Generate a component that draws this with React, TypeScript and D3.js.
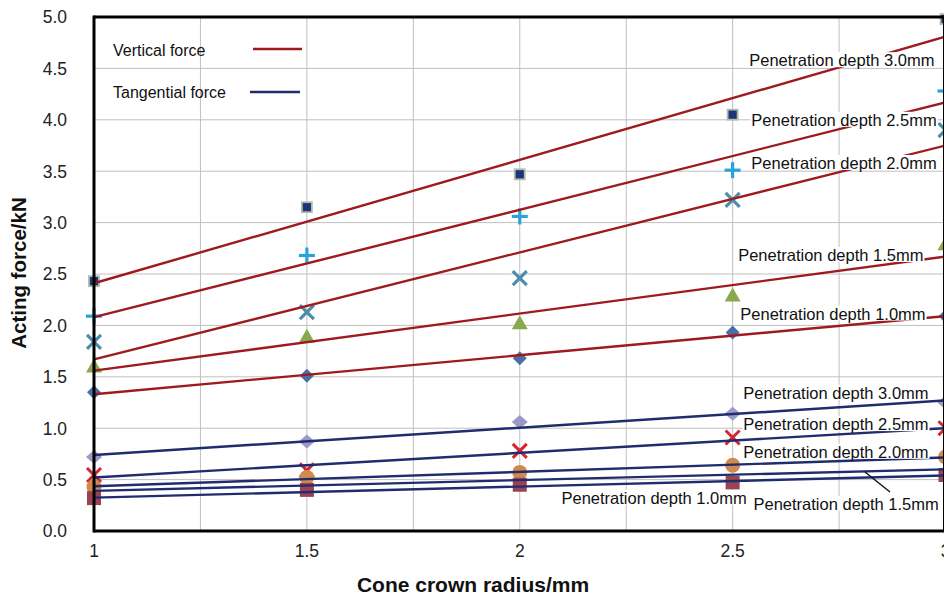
import React from "react";
import * as d3 from "d3";

// ---------- data ----------
const radii = [1, 1.5, 2, 2.5, 3];

const vertical30 = [2.43, 3.15, 3.47, 4.05, 4.98];
const vertical25 = [2.09, 2.68, 3.06, 3.51, 4.28];
const vertical20 = [1.84, 2.13, 2.46, 3.22, 3.9];
const vertical15 = [1.6, 1.89, 2.02, 2.29, 2.79];
const vertical10 = [1.35, 1.51, 1.68, 1.93, 2.09];

const tangential30 = [0.72, 0.87, 1.06, 1.14, 1.25];
const tangential25 = [0.545, 0.59, 0.78, 0.91, 1.0];
const tangential20 = [0.43, 0.52, 0.57, 0.64, 0.72];
const tangential10 = [0.32, 0.4, 0.45, 0.47, 0.545];

// trend line end values (at radius 1 and radius 3)
const trendV30 = [2.41, 4.81];
const trendV25 = [2.08, 4.17];
const trendV20 = [1.67, 3.75];
const trendV15 = [1.56, 2.67];
const trendV10 = [1.33, 2.09];
const trendT30 = [0.74, 1.27];
const trendT25 = [0.52, 1.0];
const trendT20 = [0.435, 0.715];
const trendT15 = [0.39, 0.6];
const trendT10 = [0.325, 0.54];

const yTicks = [0, 0.5, 1, 1.5, 2, 2.5, 3, 3.5, 4, 4.5, 5];
const xTickLabels = [1, 1.5, 2, 2.5, 3];
const xGrid = [1, 1.25, 1.5, 1.75, 2, 2.25, 2.5, 2.75, 3];

const labelText = {
  d30: "Penetration depth 3.0mm",
  d25: "Penetration depth 2.5mm",
  d20: "Penetration depth 2.0mm",
  d15: "Penetration depth 1.5mm",
  d10: "Penetration depth 1.0mm",
};

// ---------- layout ----------
const W = 944;
const H = 596;
const plotLeft = 94;
const plotRight = 945.5;
const plotTop = 17;
const plotBottom = 531;

const x = d3.scaleLinear().domain([1, 3]).range([plotLeft, plotRight]);
const y = d3.scaleLinear().domain([0, 5]).range([plotBottom, plotTop]);

const RED = "#9e1a1f";
const BLUE = "#1f2d6e";
const FONT = "'Liberation Sans', Arial, sans-serif";

type Marker = "sqNavy" | "plus" | "xTeal" | "tri" | "diaBlue" | "diaLav" | "xRed" | "circle" | "sqRed" | "none";

interface Series {
  values: number[] | null;
  trend: number[];
  color: string;
  marker: Marker;
  label: string;
  lx: number; // label left in data units
  ly: number; // label center in data units
}

const series: Series[] = [
  { values: vertical30, trend: trendV30, color: RED, marker: "sqNavy", label: labelText.d30, lx: 2.539, ly: 4.58 },
  { values: vertical25, trend: trendV25, color: RED, marker: "plus", label: labelText.d25, lx: 2.544, ly: 4.0 },
  { values: vertical20, trend: trendV20, color: RED, marker: "xTeal", label: labelText.d20, lx: 2.544, ly: 3.58 },
  { values: vertical15, trend: trendV15, color: RED, marker: "tri", label: labelText.d15, lx: 2.513, ly: 2.685 },
  { values: vertical10, trend: trendV10, color: RED, marker: "diaBlue", label: labelText.d10, lx: 2.518, ly: 2.115 },
  { values: tangential30, trend: trendT30, color: BLUE, marker: "diaLav", label: labelText.d30, lx: 2.525, ly: 1.345 },
  { values: tangential25, trend: trendT25, color: BLUE, marker: "xRed", label: labelText.d25, lx: 2.525, ly: 1.04 },
  { values: tangential20, trend: trendT20, color: BLUE, marker: "circle", label: labelText.d20, lx: 2.525, ly: 0.77 },
  { values: null, trend: trendT15, color: BLUE, marker: "none", label: labelText.d15, lx: 2.549, ly: 0.265 },
  { values: tangential10, trend: trendT10, color: BLUE, marker: "sqRed", label: labelText.d10, lx: 2.098, ly: 0.325 },
];

function MarkerShape({ type, cx, cy }: { type: Marker; cx: number; cy: number }) {
  switch (type) {
    case "sqNavy":
      return <rect x={cx - 5} y={cy - 5} width={10} height={10} fill="#1f3477" stroke="#aebcab" strokeWidth={1.8} />;
    case "plus":
      return (
        <g stroke="#2aa3d6" strokeWidth={3.2}>
          <line x1={cx - 8} x2={cx + 8} y1={cy} y2={cy} />
          <line x1={cx} x2={cx} y1={cy - 8} y2={cy + 8} />
        </g>
      );
    case "xTeal":
      return (
        <g stroke="#4a8eab" strokeWidth={3.2}>
          <line x1={cx - 7} x2={cx + 7} y1={cy - 7} y2={cy + 7} />
          <line x1={cx - 7} x2={cx + 7} y1={cy + 7} y2={cy - 7} />
        </g>
      );
    case "tri":
      return <path d={`M${cx},${cy - 8} L${cx + 8},${cy + 6} L${cx - 8},${cy + 6}Z`} fill="#8aa84e" />;
    case "diaBlue":
      return <path d={`M${cx},${cy - 7} L${cx + 7},${cy} L${cx},${cy + 7} L${cx - 7},${cy}Z`} fill="#4a6ea6" />;
    case "diaLav":
      return <path d={`M${cx},${cy - 7} L${cx + 8},${cy} L${cx},${cy + 7} L${cx - 8},${cy}Z`} fill="#9b99c6" />;
    case "xRed":
      return (
        <g stroke="#d6252e" strokeWidth={3}>
          <line x1={cx - 7} x2={cx + 7} y1={cy - 7} y2={cy + 7} />
          <line x1={cx - 7} x2={cx + 7} y1={cy + 7} y2={cy - 7} />
        </g>
      );
    case "circle":
      return <circle cx={cx} cy={cy} r={7.5} fill="#cf8a4c" />;
    case "sqRed":
      return <rect x={cx - 7} y={cy - 7} width={14} height={14} fill="#9b4254" />;
    default:
      return null;
  }
}

const LABEL_SIZE = 16.5;

function measureWidth(text: string, size: number) {
  // approximate Arial advance widths
  const w: Record<string, number> = {
    P: 667, e: 556, n: 556, t: 278, r: 333, a: 556, i: 222, o: 556, " ": 278, d: 556, p: 556, h: 556,
    "0": 556, "1": 556, "2": 556, "3": 556, "5": 556, ".": 278, m: 833,
  };
  let s = 0;
  for (const c of text) s += w[c] ?? 556;
  return (s / 1000) * size;
}

export default function App() {
  return (
    <svg
      width={W}
      height={H}
      viewBox={`0 0 ${W} ${H}`}
      style={{ position: "absolute", left: 0, top: 0, background: "#fff" }}
      fontFamily={FONT}
    >
      <rect x={0} y={0} width={W} height={H} fill="#fff" />
      {/* grid */}
      <g stroke="#c0c0c0" strokeWidth={1}>
        {xGrid.map((g) => (
          <line key={"gx" + g} x1={x(g)} x2={x(g)} y1={plotTop} y2={plotBottom} />
        ))}
        {yTicks.map((t) => (
          <line key={"gy" + t} x1={plotLeft} x2={plotRight} y1={y(t)} y2={y(t)} />
        ))}
      </g>

      {/* markers */}
      {series.map((s, i) =>
        s.values ? (
          <g key={"m" + i}>
            {s.values.map((v, j) => (
              <MarkerShape key={j} type={s.marker} cx={x(radii[j])} cy={y(v)} />
            ))}
          </g>
        ) : null
      )}

      {/* trend lines */}
      {series.map((s, i) => (
        <line
          key={"t" + i}
          x1={x(radii[0])}
          x2={x(radii[radii.length - 1])}
          y1={y(s.trend[0])}
          y2={y(s.trend[1])}
          stroke={s.color}
          strokeWidth={2.4}
        />
      ))}

      {/* leader line for tangential 1.5 */}
      <line x1={865} y1={472} x2={890} y2={492} stroke="#111" strokeWidth={1.5} />

      {/* labels with white background */}
      {series.map((s, i) => {
        const lx = x(s.lx);
        const ly = y(s.ly);
        const w = measureWidth(s.label, LABEL_SIZE);
        return (
          <g key={"l" + i}>
            <rect x={lx - 1} y={ly - 8} width={w + 2} height={15} fill="#fff" />
            <text x={lx} y={ly} dy="0.36em" fontSize={LABEL_SIZE} fill="#111">
              {s.label}
            </text>
          </g>
        );
      })}

      {/* frame */}
      <line x1={plotLeft} x2={plotLeft} y1={plotTop - 1.5} y2={plotBottom + 1.5} stroke="#000" strokeWidth={3} />
      <line x1={plotLeft} x2={W} y1={plotBottom} y2={plotBottom} stroke="#000" strokeWidth={3} />
      <line x1={plotLeft} x2={W} y1={plotTop} y2={plotTop} stroke="#000" strokeWidth={3} />
      <line x1={plotRight - 1} x2={plotRight - 1} y1={plotTop} y2={plotBottom} stroke="#000" strokeWidth={3} />

      {/* legend */}
      <text x={113} y={50} dy="0.36em" fontSize={16} fill="#111">Vertical force</text>
      <line x1={253} x2={302} y1={49} y2={49} stroke={RED} strokeWidth={2.4} />
      <text x={113} y={92} dy="0.36em" fontSize={16} fill="#111">Tangential force</text>
      <line x1={250} x2={300} y1={92} y2={92} stroke={BLUE} strokeWidth={2.4} />

      {/* y axis tick labels */}
      {yTicks.map((t) => (
        <text key={"yl" + t} x={67} y={y(t)} dy="0.36em" textAnchor="end" fontSize={17.5} fill="#222">
          {d3.format(".1f")(t)}
        </text>
      ))}
      {/* x axis tick labels */}
      {xTickLabels.map((t) => (
        <text key={"xl" + t} x={x(t)} y={551} dy="0.36em" textAnchor="middle" fontSize={17.5} fill="#222">
          {String(t)}
        </text>
      ))}

      {/* axis titles */}
      <text
        transform={`translate(19,${273}) rotate(-90)`}
        textAnchor="middle"
        dy="0.36em"
        fontSize={20.5}
        fontWeight="bold"
        fill="#111"
      >
        Acting force/kN
      </text>
      <text x={473} y={584} dy="0.36em" textAnchor="middle" fontSize={21} fontWeight="bold" fill="#111">
        Cone crown radius/mm
      </text>
    </svg>
  );
}
